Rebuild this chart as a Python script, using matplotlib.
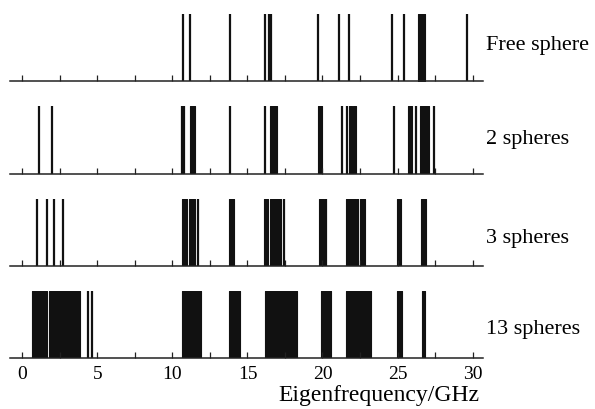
import matplotlib
matplotlib.use('Agg')
import matplotlib.pyplot as plt

plt.rcParams['font.family'] = ['Liberation Serif', 'DejaVu Serif']

# eigenfrequencies (GHz): single modes drawn as lines, dense groups as bands (lo, hi)
panel_names = ['Free sphere', '2 spheres', '3 spheres', '13 spheres']

free_lines = [10.68, 11.19, 13.81, 16.15, 16.42, 16.55, 19.70, 21.10, 21.77,
              24.62, 25.42, 29.62]
free_bands = [(26.39, 26.85)]

two_lines = [1.12, 1.95, 10.65, 10.77, 13.85, 16.17, 21.27, 21.63, 24.78,
             26.20, 27.40]
two_bands = [(11.15, 11.48), (16.50, 16.95), (19.72, 19.95), (21.80, 21.97),
             (22.05, 22.20), (25.70, 25.99), (26.48, 27.08)]

three_lines = [0.95, 1.65, 2.07, 2.67, 11.67, 17.42, 20.25, 22.37]
three_bands = [(10.62, 10.95), (11.08, 11.47), (13.78, 14.13), (16.12, 16.37),
               (16.50, 17.25), (19.77, 20.08), (21.57, 22.25), (22.50, 22.80),
               (24.97, 25.23), (26.55, 26.88)]

thirteen_lines = [4.38, 4.62]
thirteen_bands = [(0.63, 1.63), (1.77, 3.85), (10.61, 11.90), (13.79, 14.50),
                  (16.17, 18.30), (19.88, 20.57), (21.55, 23.23), (24.95, 25.32),
                  (26.60, 26.83)]

all_lines = [free_lines, two_lines, three_lines, thirteen_lines]
all_bands = [free_bands, two_bands, three_bands, thirteen_bands]

tick_pos = [i * 2.5 for i in range(13)]
tick_labels = ['0', '', '5', '', '10', '', '15', '', '20', '', '25', '', '30']

fig = plt.figure(figsize=(5.95, 4.10), dpi=100)

# panel baselines / tops in figure fractions
bottoms = [0.8007, 0.5732, 0.3495, 0.1244]
heights = [0.1634, 0.1666, 0.1627, 0.1627]
label_y = [0.888, 0.66, 0.418, 0.197]

for i in range(4):
    ax = fig.add_axes([0.0168, bottoms[i], 0.795, heights[i]])
    ax.vlines(all_lines[i], 0, 1, color='#111111', linewidth=1.6)
    ax.broken_barh([(lo, hi - lo) for lo, hi in all_bands[i]], (0, 1),
                   facecolor='#111111', edgecolor='#111111', linewidth=0.8)
    ax.set_xlim(-0.83, 30.7)
    ax.set_ylim(0, 1)
    for s in ['top', 'left', 'right']:
        ax.spines[s].set_visible(False)
    ax.spines['bottom'].set_linewidth(1.1)
    ax.spines['bottom'].set_color('#222222')
    ax.set_yticks([])
    ax.set_xticks(tick_pos)
    ax.tick_params(axis='x', direction='in', length=4.5, width=0.9,
                   color='#222222', pad=5, labelsize=14)
    if i == 3:
        ax.set_xticklabels(tick_labels)
    else:
        ax.set_xticklabels([])
    fig.text(0.816, label_y[i], panel_names[i], fontsize=16,
             ha='left', va='center')

fig.text(0.467, 0.022, 'Eigenfrequency/GHz', fontsize=17,
         ha='left', va='baseline')

fig.savefig('out.png', dpi=100)
